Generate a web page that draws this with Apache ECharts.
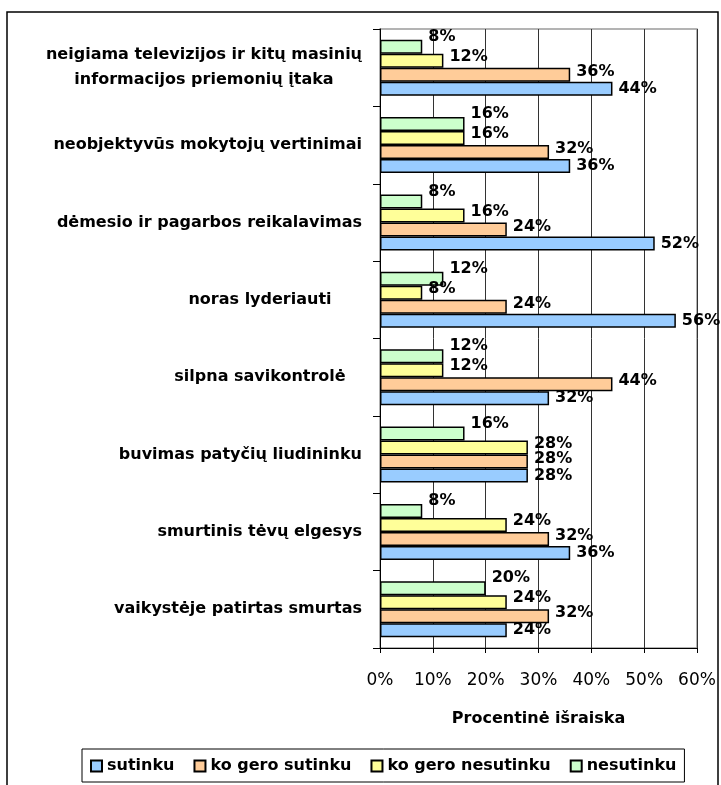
<!DOCTYPE html>
<html>
<head>
<meta charset="utf-8">
<script src="https://cdn.jsdelivr.net/npm/echarts@6/dist/echarts.min.js"></script>
<style>
html,body{margin:0;padding:0;background:#fff;}
#chart{width:721px;height:785px;}
</style>
</head>
<body>
<div id="chart"></div>
<script>
// ---- data ----
const categories = [
  'neigiama televizijos ir kitų masinių\ninformacijos priemonių įtaka',
  'neobjektyvūs mokytojų vertinimai',
  'dėmesio ir pagarbos reikalavimas',
  'noras lyderiauti',
  'silpna savikontrolė',
  'buvimas patyčių liudininku',
  'smurtinis tėvų elgesys',
  'vaikystėje patirtas smurtas'
];
const seriesNames = ['sutinku', 'ko gero sutinku', 'ko gero nesutinku', 'nesutinku'];
const sutinku        = [44, 36, 52, 56, 32, 28, 36, 24];
const koGeroSutinku  = [36, 32, 24, 24, 44, 28, 32, 32];
const koGeroNesutinku= [12, 16, 16, 8, 12, 28, 24, 24];
const nesutinku      = [8, 16, 8, 12, 12, 16, 8, 20];
const xTicks = [0, 10, 20, 30, 40, 50, 60];
const xAxisName = 'Procentinė išraiska';

// ---- styling ----
const FONT = '"DejaVu Sans", sans-serif';
const colors = {
  'sutinku': '#99CCFF',
  'ko gero sutinku': '#FFCC99',
  'ko gero nesutinku': '#FFFF99',
  'nesutinku': '#CCFFCC'
};
const labelOffsets = {
  'sutinku': [0, 0],
  'ko gero sutinku': [0, -3],
  'ko gero nesutinku': [0, -4],
  'nesutinku': [0, -10]
};

// category label placement: centered, but kept left of a right limit
const ctx = document.createElement('canvas').getContext('2d');
ctx.font = 'bold 16px "DejaVu Sans"';
const labelMargin = 120;     // anchor (label centre) distance from axis
const rightLimitGap = 18;    // text must end this far from axis
function textW(s) { return Math.max.apply(null, s.split('\n').map(l => ctx.measureText(l).width)); }
const yData = categories.map(c => {
  const w = textW(c);
  const p = Math.max(0, w - 2 * (labelMargin - rightLimitGap));
  return { value: c, textStyle: { align: 'center', padding: [0, p, 0, 0] } };
});

const valuesByName = {
  'sutinku': sutinku,
  'ko gero sutinku': koGeroSutinku,
  'ko gero nesutinku': koGeroNesutinku,
  'nesutinku': nesutinku
};

// draw order (top to bottom inside each group): nesutinku ... sutinku
const drawOrder = seriesNames.slice().reverse();
const series = drawOrder.map(name => ({
  name: name,
  type: 'bar',
  data: valuesByName[name],
  barWidth: 14,
  barGap: '0%',
  itemStyle: { color: colors[name], borderColor: '#000', borderWidth: 1.5 },
  label: {
    show: true,
    position: 'right',
    distance: 6,
    offset: labelOffsets[name],
    formatter: '{c}%',
    color: '#000',
    fontFamily: FONT,
    fontWeight: 'bold',
    fontSize: 16
  },
  emphasis: { disabled: true },
  animation: false
}));

const chart = echarts.init(document.getElementById('chart'), null, { renderer: 'canvas' });
chart.setOption({
  animation: false,
  backgroundColor: '#fff',
  textStyle: { fontFamily: FONT },
  graphic: [{
    type: 'rect',
    shape: { x: 7, y: 12, width: 711, height: 800 },
    style: { fill: null, stroke: '#000', lineWidth: 1.5 },
    z: -10
  }],
  grid: {
    left: 380, right: 24, top: 29, bottom: 137,
    containLabel: false,
    outerBoundsMode: 'none',
    show: true, borderColor: '#9a9a9a', borderWidth: 1.5, backgroundColor: 'transparent'
  },
  legend: {
    data: seriesNames,
    left: 82, top: 749,
    padding: [9, 8, 8, 8],
    borderColor: '#000', borderWidth: 1,
    icon: 'rect',
    itemWidth: 11, itemHeight: 11,
    itemGap: 19,
    textStyle: { fontFamily: FONT, fontWeight: 'bold', fontSize: 16, color: '#000' }
  },
  xAxis: {
    type: 'value',
    min: xTicks[0], max: xTicks[xTicks.length - 1], interval: xTicks[1] - xTicks[0],
    axisLine: { show: true, lineStyle: { color: '#000', width: 1 } },
    axisTick: { show: true, length: 5, lineStyle: { color: '#000' } },
    splitLine: { show: true, lineStyle: { color: '#333', width: 1 } },
    axisLabel: { formatter: '{value}%', fontFamily: FONT, fontSize: 17, color: '#000', margin: 24, hideOverlap: false },
    name: xAxisName,
    nameLocation: 'middle',
    nameGap: 63,
    nameTextStyle: { fontFamily: FONT, fontWeight: 'bold', fontSize: 16, color: '#000' }
  },
  yAxis: {
    type: 'category',
    inverse: true,
    data: yData,
    axisLine: { show: true, lineStyle: { color: '#000', width: 1 } },
    axisTick: { show: true, length: 7, lineStyle: { color: '#000' } },
    splitLine: { show: false },
    axisLabel: {
      align: 'center',
      margin: labelMargin,
      fontFamily: FONT, fontWeight: 'bold', fontSize: 16, color: '#000',
      lineHeight: 25,
      interval: 0
    }
  },
  series: series
});
</script>
</body>
</html>
